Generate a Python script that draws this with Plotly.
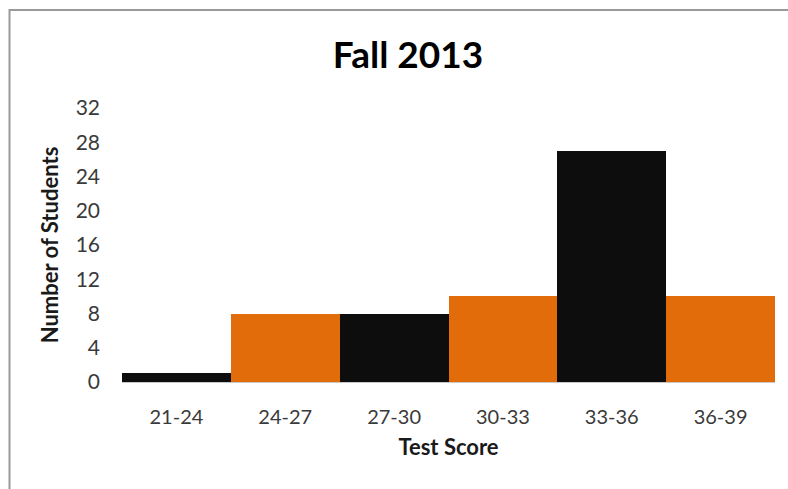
import plotly.graph_objects as go

categories = ["21-24", "24-27", "27-30", "30-33", "33-36", "36-39"]
students = [1, 8, 8, 10, 27, 10]
bar_colors = ["#0d0d0d", "#e36c0a", "#0d0d0d", "#e36c0a", "#0d0d0d", "#e36c0a"]
y_ticks = [0, 4, 8, 12, 16, 20, 24, 28, 32]

W, H = 788, 489
# desired plot area in page pixels
PL, PR, PT, PB = 122, 775, 108, 382
L, T = PL, PT
R = W - PR
B = H - PB
pw, ph = W - L - R, H - T - B

fig = go.Figure(go.Bar(
    x=categories, y=students,
    marker=dict(color=bar_colors, line=dict(width=0)),
    hoverinfo="skip",
))

def px_x(x):
    return (x - PL) / pw

def px_y(y):
    return (PB - y) / ph

fig.add_shape(type="rect", xref="paper", yref="paper",
              x0=px_x(9.5), x1=px_x(W + 40), y0=px_y(H + 40), y1=px_y(10),
              line=dict(color="#9a9a9a", width=2), fillcolor="rgba(0,0,0,0)", layer="below")

fig.update_layout(
    width=W, height=H,
    margin=dict(l=L, r=R, t=T, b=B),
    paper_bgcolor="white", plot_bgcolor="white",
    bargap=0, showlegend=False,
    font=dict(family="Lato", color="#3a3a3a"),
    title=dict(text="<b>Fall 2013</b>", x=408 / W, xanchor="center",
               y=1 - 55 / H, yanchor="middle", yref="container",
               font=dict(family="Lato", size=37, color="#000000")),
    xaxis=dict(showgrid=False, showline=True, linecolor="#c8c8c8", linewidth=1,
               ticks="", tickfont=dict(size=20, color="#3a3a3a"), ticklabelstandoff=17,
               title=dict(text="<b>Test Score</b>", font=dict(size=22, color="#1a1a1a"), standoff=12)),
    yaxis=dict(range=[0, 32], tickvals=y_ticks, showgrid=False, showline=False, zeroline=False,
               ticks="", tickfont=dict(size=21, color="#3a3a3a"), ticklabelstandoff=21,
               title=dict(text="<b>Number of Students</b>", font=dict(size=22, color="#1a1a1a"), standoff=10)),
)

fig.write_html("out.html",
               config={"displayModeBar": False, "staticPlot": True},
               post_script="document.body.style.margin='0';document.body.style.overflow='hidden';")
